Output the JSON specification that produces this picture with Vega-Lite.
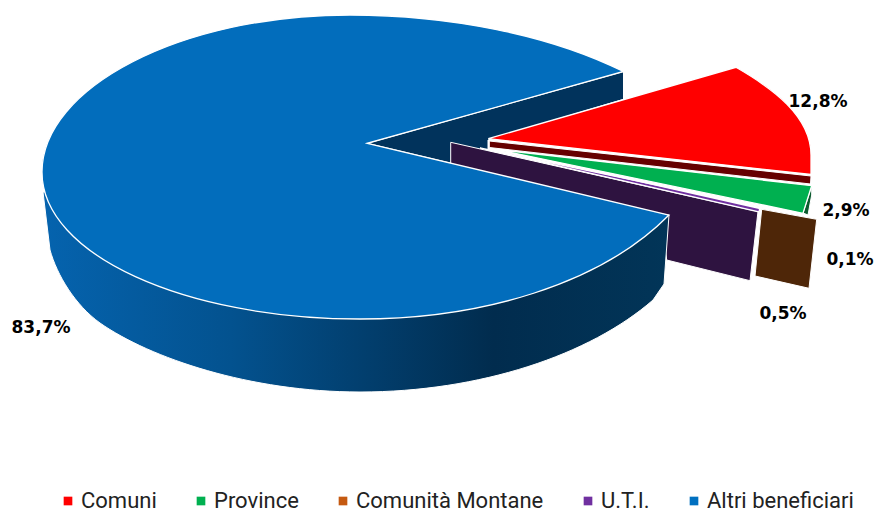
{
"$schema":"https://vega.github.io/schema/vega-lite/v6.json",
"width":874,"height":512,"padding":0,"autosize":{"type":"none"},
"background":"white",
"data":{"values":[
{"beneficiario":"Altri beneficiari","quota":83.7,"etichetta":"83,7%"},
{"beneficiario":"U.T.I.","quota":0.5,"etichetta":"0,5%"},
{"beneficiario":"Comunità Montane","quota":0.1,"etichetta":"0,1%"},
{"beneficiario":"Province","quota":2.9,"etichetta":"2,9%"},
{"beneficiario":"Comuni","quota":12.8,"etichetta":"12,8%"}
]},
"layer":[
{"mark":{"type":"point","filled":true,"shape":"square","size":0,"opacity":1},
 "encoding":{
  "color":{"field":"beneficiario","type":"nominal","title":null,
   "scale":{"domain":["Comuni","Province","Comunità Montane","U.T.I.","Altri beneficiari"],"range":["#FF0000","#00B050","#C55A11","#7030A0","#0070C0"]},
   "legend":{"orient":"none","legendX":57,"legendY":490,"direction":"horizontal","columns":5,"columnPadding":33,"symbolType":"square","symbolSize":75,"symbolStrokeWidth":0,"labelFont":"Roboto","labelFontSize":22,"labelColor":"#222222","labelLimit":0,"labelOffset":2,"title":null}}
 }},
{"mark":{"type":"point","filled":true,"size":4,"opacity":1,"stroke":"white","strokeWidth":1},
 "encoding":{
  "color":{"field":"beneficiario","type":"nominal","legend":null,"scale":{"domain":["Comuni","Province","Comunità Montane","U.T.I.","Altri beneficiari"],"range":["#660000","#0B5A2E","#4E2608","#2E1340","#01335C"]}},
  "shape":{"field":"beneficiario","type":"nominal","legend":null,"scale":{"domain":["Comuni","Province","Comunità Montane","U.T.I.","Altri beneficiari"],"range":[
   "M52.3,-115L374,-80L373.5,-72L52.3,-108.5Z",
   "M374.7,-70L366,-43L371,-41L374.7,-61Z",
   "M324.7,-46.7L379.7,-36.7L372,32.3L318,20Z",
   "M13.7,-113.7L321,-44.5L313,24.7L229.7,4L225,-35L13.7,-80Z",
   "M-69.7,-112.7L186.5,-184.5L186.5,-156.7L51,-116L51,-101L13,-93Z"]}}
 }},
{"transform":[{"filter":"datum.beneficiario === 'Altri beneficiari'"}],
 "mark":{"type":"point","filled":true,"size":4,"opacity":1,"stroke":"white","strokeWidth":1,
  "shape":"M232,-41L227,28L216,44C153,99,43,136,-77,136C-187,136,-287,102,-337,67C-362,49,-380,19,-387,-6L-394,-64Z",
  "fill":{"gradient":"linear","x1":0,"y1":0,"x2":1,"y2":0,"stops":[
   {"offset":0,"color":"#0563AE"},{"offset":0.3,"color":"#03528F"},{"offset":0.72,"color":"#012C4E"},{"offset":1,"color":"#023558"}]}}},
{"mark":{"type":"point","filled":true,"size":4,"opacity":1,"stroke":"white","strokeWidth":1.3},
 "encoding":{
  "color":{"field":"beneficiario","type":"nominal","legend":null,
   "scale":{"domain":["Comuni","Province","Comunità Montane","U.T.I.","Altri beneficiari"],"range":["#FF0000","#00B050","#C55A11","#7030A0","#026DBC"]}},
  "shape":{"field":"beneficiario","type":"nominal","legend":null,"scale":{"domain":["Comuni","Province","Comunità Montane","U.T.I.","Altri beneficiari"],"range":[
   "M51.3,-117.3L299,-188.7C335,-168,374,-140,374,-101L374,-81.5Z",
   "M60,-106.5L374.7,-70.3L366,-42.7Z",
   "M63,-106L325,-47L326,-48Z",
   "M43,-108L323,-49.5L322,-44Z",
   "M-69.7,-112.7L232,-41C163,29,43,63,-77,63C-252,63,-395,-1,-395,-84C-395,-168,-257,-241,-87,-241C13,-241,113,-221,186.5,-184.5Z"]}}
 }},
{"transform":[{"filter":"datum.beneficiario === 'Comuni'"}],"mark":{"type":"text","dx":381,"dy":-154,"font":"DejaVu Sans","fontWeight":"bold","fontSize":17,"color":"black"},"encoding":{"text":{"field":"etichetta"}}},
{"transform":[{"filter":"datum.beneficiario === 'Province'"}],"mark":{"type":"text","dx":409,"dy":-45,"font":"DejaVu Sans","fontWeight":"bold","fontSize":17,"color":"black"},"encoding":{"text":{"field":"etichetta"}}},
{"transform":[{"filter":"datum.beneficiario === 'Comunità Montane'"}],"mark":{"type":"text","dx":413,"dy":4,"font":"DejaVu Sans","fontWeight":"bold","fontSize":17,"color":"black"},"encoding":{"text":{"field":"etichetta"}}},
{"transform":[{"filter":"datum.beneficiario === 'U.T.I.'"}],"mark":{"type":"text","dx":346,"dy":58,"font":"DejaVu Sans","fontWeight":"bold","fontSize":17,"color":"black"},"encoding":{"text":{"field":"etichetta"}}},
{"transform":[{"filter":"datum.beneficiario === 'Altri beneficiari'"}],"mark":{"type":"text","dx":-396,"dy":72,"font":"DejaVu Sans","fontWeight":"bold","fontSize":17,"color":"black"},"encoding":{"text":{"field":"etichetta"}}}
],
"resolve":{"scale":{"color":"independent","shape":"independent"}},
"config":{"view":{"stroke":null}}
}
